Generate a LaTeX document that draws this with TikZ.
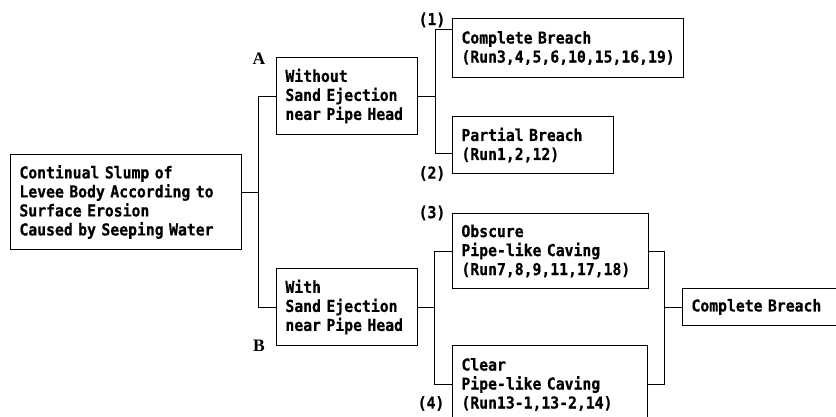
\documentclass[tikz,border=0pt]{standalone}
\usepackage{fontspec}
\setmainfont{Liberation Serif}
\setmonofont[FakeStretch=0.9, BoldFeatures={FakeBold=0.6}]{DejaVu Sans Mono}
\usepackage{tikz}
\usetikzlibrary{positioning}

\begin{document}
\begin{tikzpicture}[
    x=1pt,
    y=-1pt,
    font=\ttfamily\bfseries\fontsize{16.4}{19}\selectfont,
    box/.style={draw, line width=0.9pt, anchor=north west, align=left, inner xsep=9pt, inner ysep=0pt},
    link/.style={line width=0.9pt},
    tag/.style={inner sep=0pt},
    letter/.style={inner sep=0pt, font=\rmfamily\bfseries\fontsize{17.5}{17.5}\selectfont}
]
    \useasboundingbox (0,0) rectangle (836,416);

    % Cause
    \node[box, text width=213pt, minimum height=95pt] (root) at (10,154)
        {Continual Slump of\\Levee Body According to\\Surface Erosion\\Caused by Seeping Water};

    % Case A and case B
    \node[box, text width=123pt, minimum height=77pt] (without) at (276,57)
        {Without\\Sand Ejection\\near Pipe Head};
    \node[box, text width=123pt, minimum height=77pt] (with) at (276,268)
        {With\\Sand Ejection\\near Pipe Head};
    \node[letter] (lblA) at (259,58.5) {A};
    \node[letter] (lblB) at (259,346) {B};

    % Results of case A
    \node[box, text width=213pt, minimum height=59pt] (breach1) at (452,18)
        {Complete Breach\\(Run3,4,5,6,10,15,16,19)};
    \node[box, text width=143pt, minimum height=57pt] (partial) at (452,116)
        {Partial Breach\\(Run1,2,12)};
    \node[tag] (lbl1) at (432,20) {(1)};
    \node[tag] (lbl2) at (432,173.5) {(2)};

    % Results of case B
    \node[box, text width=178pt, minimum height=75pt] (obscure) at (452,213)
        {Obscure\\Pipe-like Caving\\(Run7,8,9,11,17,18)};
    \node[box, text width=177pt, minimum height=78pt] (clear) at (452,345)
        {Clear\\Pipe-like Caving\\(Run13-1,13-2,14)};
    \node[tag] (lbl3) at (432,213) {(3)};
    \node[tag] (lbl4) at (431,403.5) {(4)};

    % Final state
    \node[box, text width=152pt, minimum height=37pt] (breach2) at (682,288) {Complete Breach};

    % Connectors
    \coordinate (trunk) at (258,0);
    \coordinate (forkA) at (435,0);
    \coordinate (forkB) at (434,0);
    \coordinate (forkC) at (664,0);
    \coordinate (rootout) at ([yshift=9.5pt]root.east);
    \coordinate (in1) at ([yshift=18.5pt]breach1.west);
    \coordinate (in2) at ([yshift=-8.5pt]partial.west);

    \draw[link] (rootout) -- (rootout -| trunk);
    \draw[link] (without.west) -| (with.west -| trunk) -- (with.west);

    \draw[link] (without.east) -- (without.east -| forkA);
    \draw[link] (in1) -| (in2 -| forkA) -- (in2);

    \draw[link] (with.east) -- (with.east -| forkB);
    \draw[link] (obscure.west) -| (clear.west -| forkB) -- (clear.west);

    \draw[link] (obscure.east) -| (clear.east -| forkC) -- (clear.east);
    \draw[link] (breach2.west) -- (breach2.west -| forkC);
\end{tikzpicture}
\end{document}
